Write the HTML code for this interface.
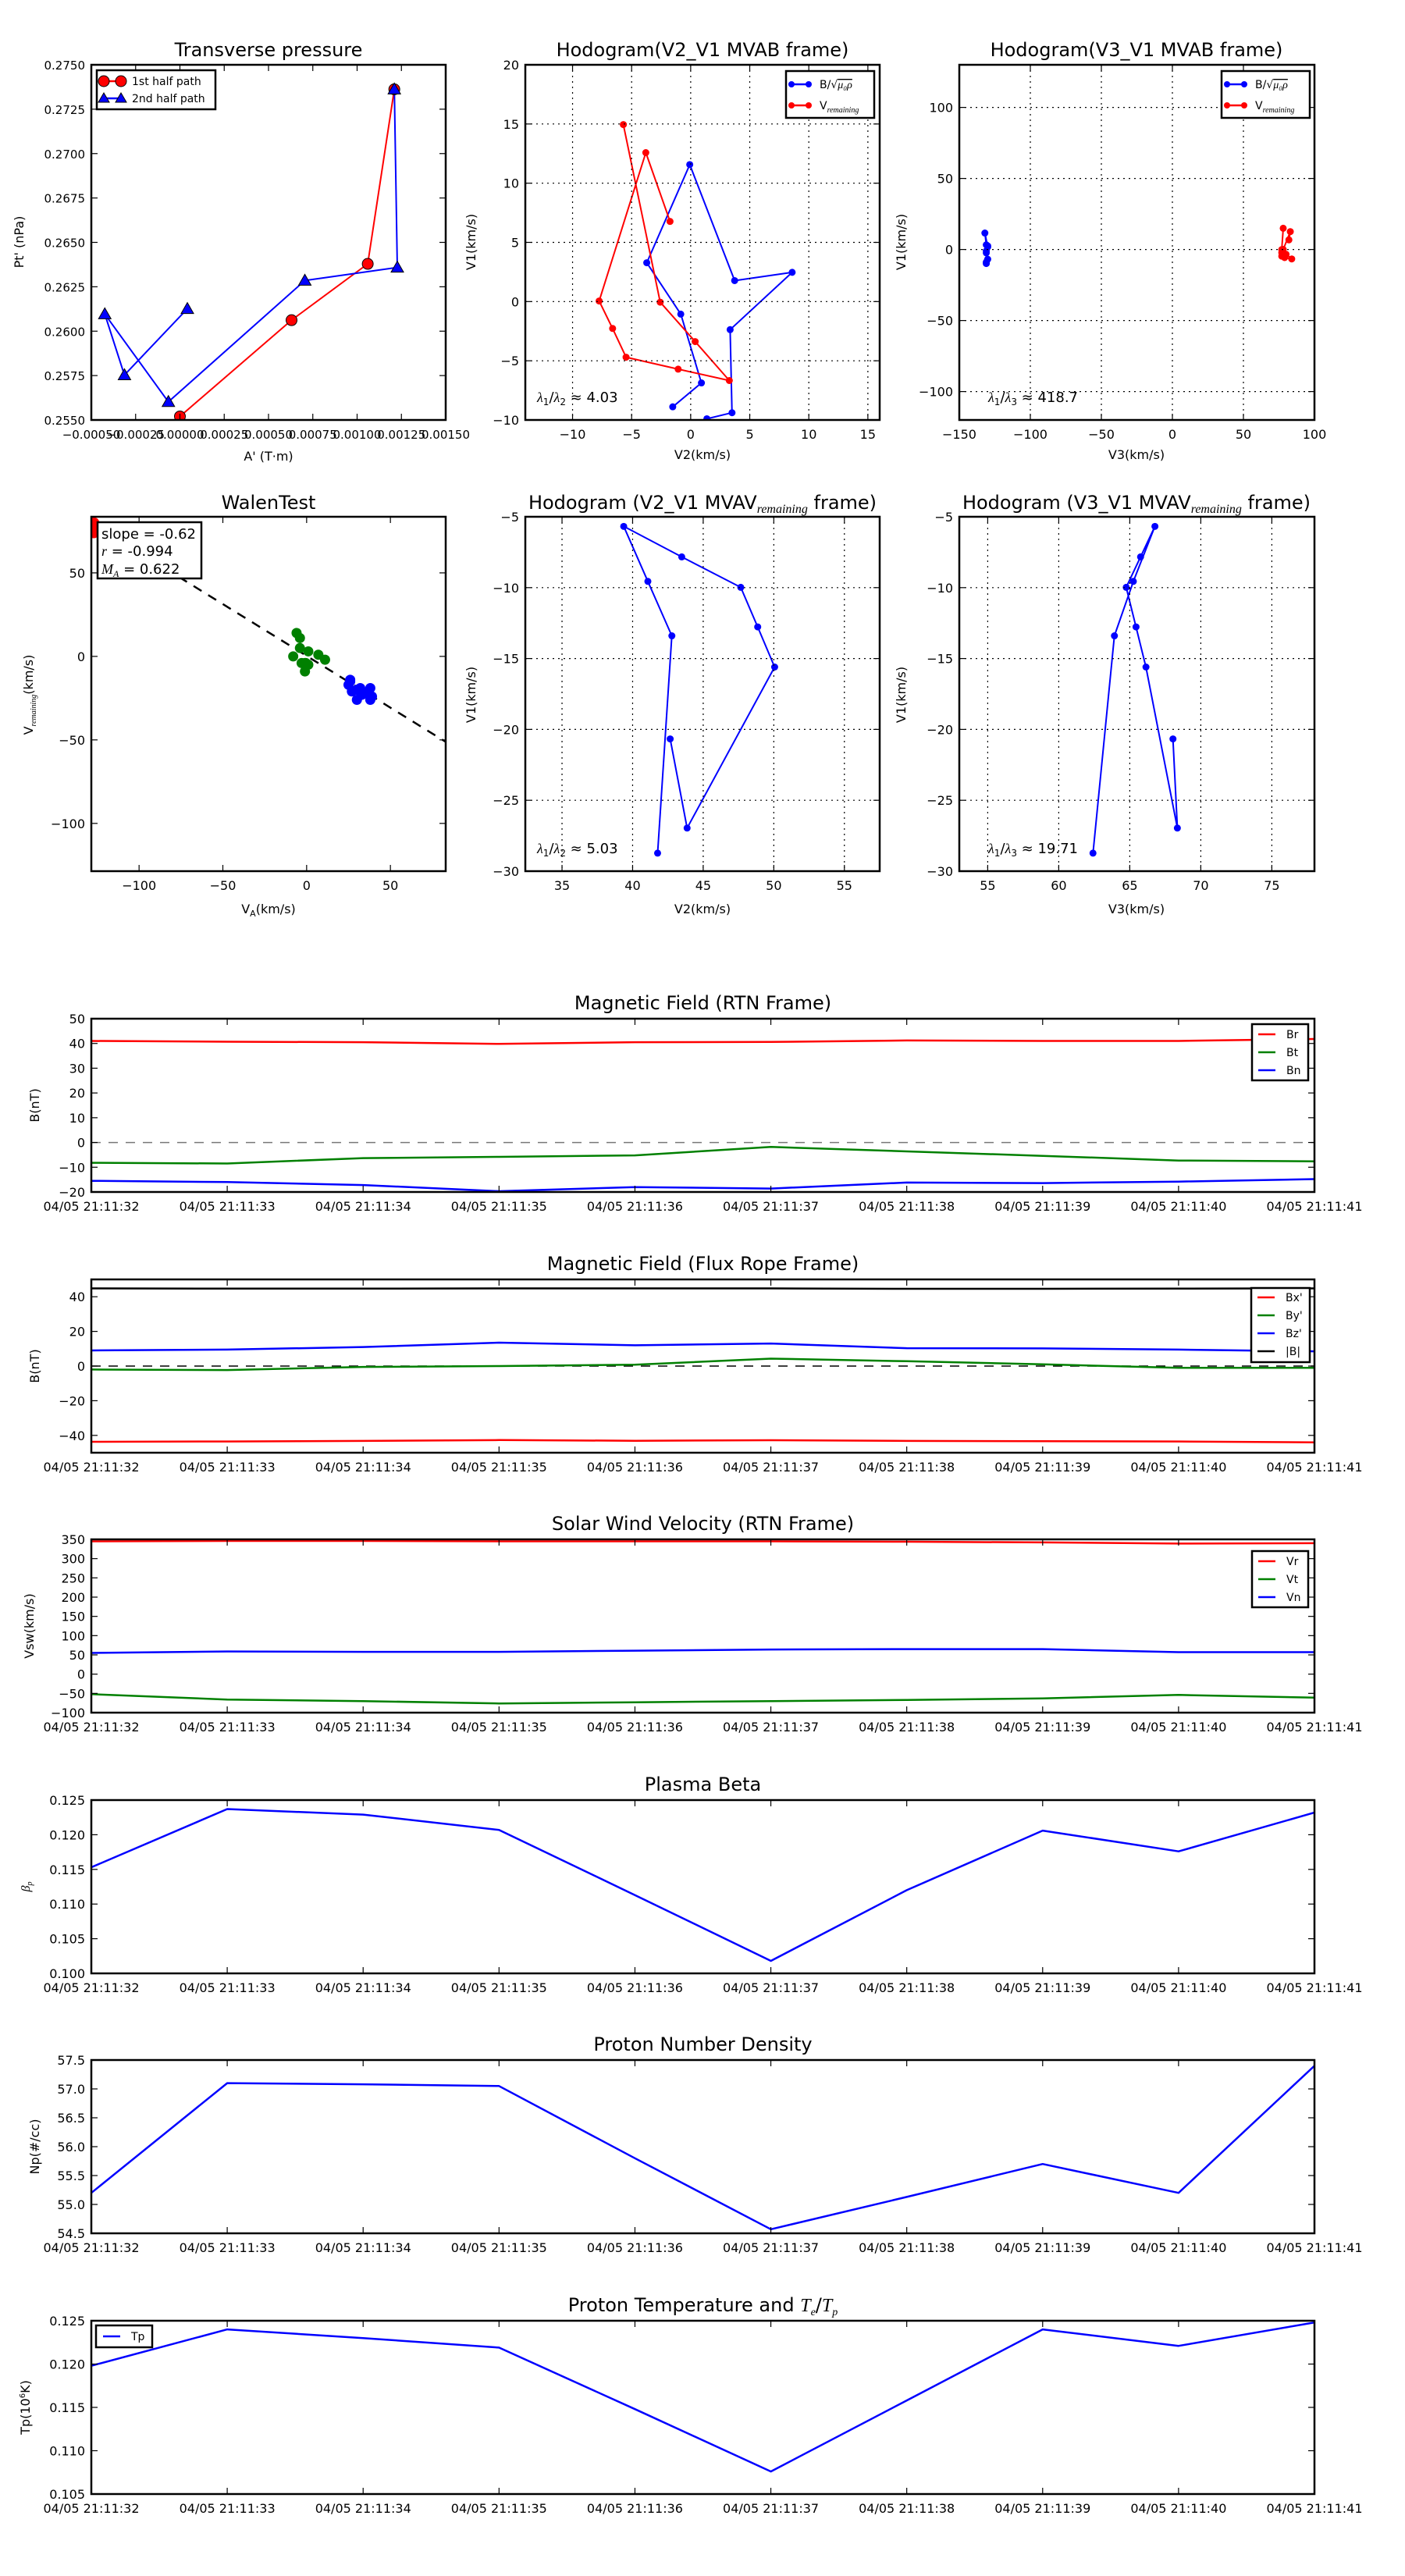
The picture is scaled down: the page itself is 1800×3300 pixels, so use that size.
<!DOCTYPE html>
<html><head><meta charset="utf-8"><title>Flux rope analysis</title>
<style>
html,body{margin:0;padding:0;background:#fff;}
svg{display:block;font-family:"DejaVu Sans","Liberation Sans",sans-serif;}
</style></head>
<body>
<svg id="fig" xmlns="http://www.w3.org/2000/svg" width="1800" height="3300" viewBox="0 0 1800 3300">
<rect x="0" y="0" width="1800" height="3300" fill="#fff"/>
<defs id="defs"></defs>
</svg>
<script>
// ---------- data ----------
const timeLabels = ["04/05 21:11:32","04/05 21:11:33","04/05 21:11:34","04/05 21:11:35","04/05 21:11:36","04/05 21:11:37","04/05 21:11:38","04/05 21:11:39","04/05 21:11:40","04/05 21:11:41"];
const timeIdx = [0,1,2,3,4,5,6,7,8,9];
const Br = [41,40.7,40.5,39.8,40.5,40.6,41.2,41,41,41.8];
const Bt = [-8.2,-8.5,-6.3,-5.8,-5.2,-1.8,-3.6,-5.4,-7.3,-7.6];
const Bn = [-15.5,-16,-17.2,-19.7,-18,-18.6,-16.2,-16.4,-15.8,-14.8];
const Bxp = [-43.7,-43.5,-43.2,-42.7,-43.1,-42.8,-43.2,-43.4,-43.5,-44];
const Byp = [-2,-2.3,-0.5,0,0.8,4.3,2.8,1,-1,-1];
const Bzp = [9,9.5,11,13.5,12,13,10.3,10.2,9.5,8.5];
const Babs = [44.8,44.7,44.7,44.8,44.8,44.8,44.6,44.6,44.7,44.8];
const Vr = [345,346,346,345,345,345,344,342,339,340];
const Vt = [-52,-66,-70,-76,-73,-70,-67,-63,-54,-61];
const Vn = [55,59,58,58,61,64,65,65,57,57];
const beta = [0.1153,0.1237,0.1229,0.1207,0.1113,0.1018,0.1120,0.1206,0.1176,0.1232];
const Np = [55.2,57.1,57.08,57.05,55.8,54.57,55.13,55.7,55.2,57.4];
const Tp = [0.1198,0.1240,0.1230,0.1219,0.1148,0.1076,0.1158,0.1240,0.1221,0.1248];

const tpA1 = [0.0000,0.00063,0.00106,0.00121];
const tpP1 = [0.2552,0.26062,0.26379,0.27362];
const tpA2 = [0.00121,0.001227,0.000705,-0.000065,-0.000424,-0.000313,0.000042];
const tpP2 = [0.27362,0.26359,0.26285,0.25602,0.26096,0.25753,0.26126];
const tpXTicks = [-0.0005,-0.00025,0,0.00025,0.0005,0.00075,0.001,0.00125,0.0015];
const tpXLabels = ["\u22120.00050","\u22120.00025","0.00000","0.00025","0.00050","0.00075","0.00100","0.00125","0.00150"];
const tpYTicks = [0.255,0.2575,0.26,0.2625,0.265,0.2675,0.27,0.2725,0.275];
const tpYLabels = ["0.2550","0.2575","0.2600","0.2625","0.2650","0.2675","0.2700","0.2725","0.2750"];

const hbV2 = [-1.52,0.91,-0.84,-3.72,-0.08,3.72,8.59,3.34,3.50,1.37];
const hbV1 = [-8.89,-6.87,-1.06,3.28,11.57,1.77,2.47,-2.37,-9.39,-9.9];
const hvV2 = [-5.70,-2.58,0.38,3.27,-1.06,-5.47,-6.61,-7.75,-3.80,-1.75];
const hvV1 = [14.95,-0.05,-3.38,-6.67,-5.71,-4.70,-2.27,0.05,12.58,6.77];
const hbV3 = [-131,-130,-131,-131,-132,-130,-130,-131,-131,-131];
const hvV3 = [78,77,80,84,79,77,77,78,83,82];

const walenGreenX = [-6,-4,-4,-8,1,7,11,-1,1,-1,-0.5,-3];
const walenGreenY = [14,11,5,0,3,1,-2,-4,-5,-9,-4,-4];
const walenBlueX = [26,25,27,30,32,35,38,38,39,26,30,33];
const walenBlueY = [-14,-17,-21,-26,-19,-22,-19,-26,-24,-15,-20,-23];
const walenRedX = [-127,-127,-127];
const walenRedY = [80,77,74];
const walenSlope = -0.62;
const walenIntercept = 0.3;

const mvV2 = [42.66,43.86,50.06,48.86,47.66,43.48,39.37,41.08,42.78,41.77];
const mvV1 = [-20.67,-26.96,-15.60,-12.77,-9.98,-7.83,-5.68,-9.56,-13.40,-28.73];
const mvV3 = [68.04,68.35,66.14,65.44,64.75,65.76,66.77,65.25,63.92,62.41];

// ---------- helpers ----------
const NS = 'http://www.w3.org/2000/svg';
const svg = document.getElementById('fig');
const defs = document.getElementById('defs');
function mk(tag, attrs, parent){
  const e = document.createElementNS(NS, tag);
  for (const k in attrs) e.setAttribute(k, attrs[k]);
  (parent||svg).appendChild(e);
  return e;
}
let clipN = 0;
function axes(name, L, T, W, H, xd, yd){
  const g = mk('g', {});
  
  
  const id = 'clip' + (clipN++);
  const cp = mk('clipPath', {id: id}, defs);
  mk('rect', {x: L, y: T, width: W, height: H}, cp);
  const plot = mk('g', {'clip-path': 'url(#' + id + ')'}, g);
  
  
  return {g, plot, L, T, W, H,
    sx: v => L + (v - xd[0]) / (xd[1] - xd[0]) * W,
    sy: v => T + H - (v - yd[0]) / (yd[1] - yd[0]) * H};
}
function frame(ax){
  const r = mk('rect', {x: ax.L, y: ax.T, width: ax.W, height: ax.H, fill: 'none', stroke: '#000', 'stroke-width': 2.5}, ax.g);
  
  
}
function xticks(ax, vals, labels, grid, fs){
  vals.forEach((v, i) => {
    const x = ax.sx(v);
    if (grid) {
      const gl = mk('line', {x1: x, x2: x, y1: ax.T, y2: ax.T + ax.H, stroke: '#000', 'stroke-width': 1.2, 'stroke-dasharray': '2,5'}, ax.g);
      
      
    }
    const t1 = mk('line', {x1: x, x2: x, y1: ax.T + ax.H, y2: ax.T + ax.H - 8, stroke: '#000', 'stroke-width': 1.2}, ax.g);
    
    
    const t2 = mk('line', {x1: x, x2: x, y1: ax.T, y2: ax.T + 8, stroke: '#000', 'stroke-width': 1.2}, ax.g);
    
    
    const tx = mk('text', {x: x, y: ax.T + ax.H + 24, 'text-anchor': 'middle', 'font-size': fs || 16}, ax.g);
    tx.textContent = labels[i];
    
    
  });
}
function yticks(ax, vals, labels, grid, fs){
  vals.forEach((v, i) => {
    const y = ax.sy(v);
    if (grid) {
      const gl = mk('line', {x1: ax.L, x2: ax.L + ax.W, y1: y, y2: y, stroke: '#000', 'stroke-width': 1.2, 'stroke-dasharray': '2,5'}, ax.g);
      
      
    }
    const t1 = mk('line', {x1: ax.L, x2: ax.L + 8, y1: y, y2: y, stroke: '#000', 'stroke-width': 1.2}, ax.g);
    
    
    const t2 = mk('line', {x1: ax.L + ax.W, x2: ax.L + ax.W - 8, y1: y, y2: y, stroke: '#000', 'stroke-width': 1.2}, ax.g);
    
    
    const tx = mk('text', {x: ax.L - 8, y: y + 6, 'text-anchor': 'end', 'font-size': fs || 16}, ax.g);
    tx.textContent = labels[i];
    
    
  });
}
function series(ax, xs, ys, color, name, w, dash){
  const pts = xs.map((x, i) => ax.sx(x).toFixed(1) + ',' + ax.sy(ys[i]).toFixed(1)).join(' ');
  const p = mk('polyline', {points: pts, fill: 'none', stroke: color, 'stroke-width': w || 2.5, 'stroke-linejoin': 'round'}, ax.plot);
  if (dash) p.setAttribute('stroke-dasharray', dash);
  
  
  return p;
}
function dots(ax, xs, ys, color, name, r, shape){
  xs.forEach((x, i) => {
    const cx = ax.sx(x), cy = ax.sy(ys[i]);
    let m;
    if (shape === 'tri') {
      m = mk('polygon', {points: `${cx},${cy - r} ${cx - r},${cy + r * 0.75} ${cx + r},${cy + r * 0.75}`, fill: color, stroke: '#000', 'stroke-width': 1}, ax.plot);
    } else {
      m = mk('circle', {cx: cx, cy: cy, r: r, fill: color, stroke: shape === 'edge' ? '#000' : 'none', 'stroke-width': 1}, ax.plot);
    }
    
    
  });
}
function label(txt, x, y, fs, name, rot, parent){
  const t = mk('text', {x: x, y: y, 'text-anchor': 'middle', 'font-size': fs}, parent || svg);
  if (rot) t.setAttribute('transform', `rotate(-90 ${x} ${y})`);
  t.innerHTML = txt;
  
  
  return t;
}
function legendBox(x, y, w, h, name){
  const g = mk('g', {});
  
  
  mk('rect', {x: x, y: y, width: w, height: h, fill: '#fff', stroke: '#000', 'stroke-width': 2.5}, g);
  return g;
}
function legendEntry(g, x, y, color, txt, name, markers, shape){
  const e = mk('g', {}, g);
  
  
  mk('line', {x1: x, x2: x + 22, y1: y, y2: y, stroke: color, 'stroke-width': 2.5}, e);
  if (markers) {
    [x, x + 22].forEach(mx => {
      if (shape === 'tri') mk('polygon', {points: `${mx},${y - 7} ${mx - 7},${y + 5} ${mx + 7},${y + 5}`, fill: color, stroke: '#000', 'stroke-width': 1}, e);
      else mk('circle', {cx: mx, cy: y, r: markers, fill: color, stroke: shape === 'edge' ? '#000' : 'none'}, e);
    });
  }
  const t = mk('text', {x: x + 36, y: y + 5, 'font-size': 14}, e);
  t.innerHTML = txt;
}

// ---------- top row ----------
// Transverse pressure
let ax = axes('transverse-pressure-chart', 117, 83, 454, 455, [-0.0005, 0.0015], [0.255, 0.275]);
series(ax, tpA1, tpP1, '#f00', 'first-half-path-line', 2);
series(ax, tpA2, tpP2, '#00f', 'second-half-path-line', 2);
dots(ax, tpA1, tpP1, '#f00', 'first-half-point', 7, 'edge');
dots(ax, tpA2, tpP2, '#00f', 'second-half-point', 8, 'tri');
frame(ax);
xticks(ax, tpXTicks, tpXLabels, false, 15);
yticks(ax, tpYTicks, tpYLabels, false, 15);
label('Transverse pressure', 344, 72, 24, 'transverse-pressure-title');
label('A\' (T·m)', 344, 590, 16, 'x-axis-title');
label('Pt\' (nPa)', 30, 310, 16, 'y-axis-title', true);
let lg = legendBox(124, 90, 152, 50, 'legend');
legendEntry(lg, 133, 104, '#f00', '1st half path', 'legend-entry-first-half', 7, 'edge');
legendEntry(lg, 133, 126, '#00f', '2nd half path', 'legend-entry-second-half', 7, 'tri');

// Hodogram V2_V1 MVAB
ax = axes('hodogram-v2-v1-mvab-chart', 673, 83, 454, 455, [-14, 16], [-10, 20]);
xticks(ax, [-10,-5,0,5,10,15], ['\u221210','\u22125','0','5','10','15'], true);
yticks(ax, [-10,-5,0,5,10,15,20], ['\u221210','\u22125','0','5','10','15','20'], true);
series(ax, hbV2, hbV1, '#00f', 'b-hodogram-line', 2);
dots(ax, hbV2, hbV1, '#00f', 'b-hodogram-point', 4.5);
series(ax, hvV2, hvV1, '#f00', 'v-hodogram-line', 2);
dots(ax, hvV2, hvV1, '#f00', 'v-hodogram-point', 4.5);
frame(ax);
label('Hodogram(V2_V1 MVAB frame)', 900, 72, 24, 'hodogram-mvab-v2-title');
label('V2(km/s)', 900, 588, 16, 'x-axis-title');
label('V1(km/s)', 609, 310, 16, 'y-axis-title', true);
let lt = mk('text', {x: 688, y: 515, 'font-size': 18}, ax.g);
lt.innerHTML = '<tspan font-family="Liberation Serif" font-style="italic">λ</tspan><tspan font-size="12" dy="4">1</tspan><tspan dy="-4">/</tspan><tspan font-family="Liberation Serif" font-style="italic">λ</tspan><tspan font-size="12" dy="4">2</tspan><tspan dy="-4"> ≈ 4.03</tspan>';


lg = legendBox(1007, 91, 113, 60, 'legend');
legendEntry(lg, 1014, 108, '#00f', 'B/√<tspan font-family="Liberation Serif" font-style="italic" text-decoration="overline">μ₀ρ</tspan>', 'legend-entry-b', 4);
legendEntry(lg, 1014, 135, '#f00', 'V<tspan font-size="10" font-family="Liberation Serif" font-style="italic" dy="4">remaining</tspan>', 'legend-entry-v', 4);

// Hodogram V3_V1 MVAB
ax = axes('hodogram-v3-v1-mvab-chart', 1229, 83, 455, 455, [-150, 100], [-120, 130]);
xticks(ax, [-150,-100,-50,0,50,100], ['\u2212150','\u2212100','\u221250','0','50','100'], true);
yticks(ax, [-100,-50,0,50,100], ['\u2212100','\u221250','0','50','100'], true);
series(ax, hbV3, hbV1, '#00f', 'b-hodogram-line', 2);
dots(ax, hbV3, hbV1, '#00f', 'b-hodogram-point', 4.5);
series(ax, hvV3, hvV1, '#f00', 'v-hodogram-line', 2);
dots(ax, hvV3, hvV1, '#f00', 'v-hodogram-point', 4.5);
frame(ax);
label('Hodogram(V3_V1 MVAB frame)', 1456, 72, 24, 'hodogram-mvab-v3-title');
label('V3(km/s)', 1456, 588, 16, 'x-axis-title');
label('V1(km/s)', 1160, 310, 16, 'y-axis-title', true);
lt = mk('text', {x: 1266, y: 515, 'font-size': 18}, ax.g);
lt.innerHTML = '<tspan font-family="Liberation Serif" font-style="italic">λ</tspan><tspan font-size="12" dy="4">1</tspan><tspan dy="-4">/</tspan><tspan font-family="Liberation Serif" font-style="italic">λ</tspan><tspan font-size="12" dy="4">3</tspan><tspan dy="-4"> ≈ 418.7</tspan>';


lg = legendBox(1565, 91, 113, 60, 'legend');
legendEntry(lg, 1572, 108, '#00f', 'B/√<tspan font-family="Liberation Serif" font-style="italic" text-decoration="overline">μ₀ρ</tspan>', 'legend-entry-b', 4);
legendEntry(lg, 1572, 135, '#f00', 'V<tspan font-size="10" font-family="Liberation Serif" font-style="italic" dy="4">remaining</tspan>', 'legend-entry-v', 4);

// ---------- second row ----------
ax = axes('walen-test-chart', 117, 662, 454, 454, [-128.5, 83], [-128.6, 83.6]);
xticks(ax, [-100,-50,0,50], ['\u2212100','\u221250','0','50'], false);
yticks(ax, [-100,-50,0,50], ['\u2212100','\u221250','0','50'], false);
series(ax, [-128.5, 83], [walenSlope * -128.5 + walenIntercept, walenSlope * 83 + walenIntercept], '#000', 'walen-fit-line', 2.5, '12,10');
dots(ax, walenRedX, walenRedY, '#f00', 'walen-red-point', 7);
dots(ax, walenGreenX, walenGreenY, 'green', 'walen-green-point', 6.5);
dots(ax, walenBlueX, walenBlueY, '#00f', 'walen-blue-point', 6.5);
frame(ax);
let wb = legendBox(125, 669, 133, 72, 'walen-stats-box');
let wt = mk('text', {x: 130, y: 690, 'font-size': 18}, wb); wt.textContent = 'slope = -0.62';
wt = mk('text', {x: 130, y: 712, 'font-size': 18}, wb); wt.innerHTML = '<tspan font-family="Liberation Serif" font-style="italic">r</tspan> = -0.994';
wt = mk('text', {x: 130, y: 735, 'font-size': 18}, wb); wt.innerHTML = '<tspan font-family="Liberation Serif" font-style="italic">M</tspan><tspan font-family="Liberation Serif" font-style="italic" font-size="12" dy="4">A</tspan><tspan dy="-4"> = 0.622</tspan>';
label('WalenTest', 344, 652, 24, 'walen-test-title');
label('V<tspan font-size="11" dy="4">A</tspan><tspan dy="-4">(km/s)</tspan>', 344, 1170, 16, 'x-axis-title');
label('V<tspan font-size="10" font-family="Liberation Serif" font-style="italic" dy="4">remaining</tspan><tspan dy="-4">(km/s)</tspan>', 42, 890, 16, 'y-axis-title', true);

ax = axes('hodogram-v2-v1-mvav-chart', 673, 662, 454, 454, [32.4, 57.5], [-30, -5]);
xticks(ax, [35,40,45,50,55], ['35','40','45','50','55'], true);
yticks(ax, [-30,-25,-20,-15,-10,-5], ['\u221230','\u221225','\u221220','\u221215','\u221210','\u22125'], true);
series(ax, mvV2, mvV1, '#00f', 'mvav-hodogram-line', 2);
dots(ax, mvV2, mvV1, '#00f', 'mvav-hodogram-point', 4.5);
frame(ax);
label('Hodogram (V2_V1 MVAV<tspan font-family="Liberation Serif" font-style="italic" font-size="16" dy="5">remaining</tspan><tspan dy="-5"> frame)</tspan>', 900, 652, 24, 'hodogram-mvav-v2-title');
label('V2(km/s)', 900, 1170, 16, 'x-axis-title');
label('V1(km/s)', 609, 890, 16, 'y-axis-title', true);
lt = mk('text', {x: 688, y: 1093, 'font-size': 18}, ax.g);
lt.innerHTML = '<tspan font-family="Liberation Serif" font-style="italic">λ</tspan><tspan font-size="12" dy="4">1</tspan><tspan dy="-4">/</tspan><tspan font-family="Liberation Serif" font-style="italic">λ</tspan><tspan font-size="12" dy="4">2</tspan><tspan dy="-4"> ≈ 5.03</tspan>';



ax = axes('hodogram-v3-v1-mvav-chart', 1229, 662, 455, 454, [53, 78], [-30, -5]);
xticks(ax, [55,60,65,70,75], ['55','60','65','70','75'], true);
yticks(ax, [-30,-25,-20,-15,-10,-5], ['\u221230','\u221225','\u221220','\u221215','\u221210','\u22125'], true);
series(ax, mvV3, mvV1, '#00f', 'mvav-hodogram-line', 2);
dots(ax, mvV3, mvV1, '#00f', 'mvav-hodogram-point', 4.5);
frame(ax);
label('Hodogram (V3_V1 MVAV<tspan font-family="Liberation Serif" font-style="italic" font-size="16" dy="5">remaining</tspan><tspan dy="-5"> frame)</tspan>', 1456, 652, 24, 'hodogram-mvav-v3-title');
label('V3(km/s)', 1456, 1170, 16, 'x-axis-title');
label('V1(km/s)', 1160, 890, 16, 'y-axis-title', true);
lt = mk('text', {x: 1266, y: 1093, 'font-size': 18}, ax.g);
lt.innerHTML = '<tspan font-family="Liberation Serif" font-style="italic">λ</tspan><tspan font-size="12" dy="4">1</tspan><tspan dy="-4">/</tspan><tspan font-family="Liberation Serif" font-style="italic">λ</tspan><tspan font-size="12" dy="4">3</tspan><tspan dy="-4"> ≈ 19.71</tspan>';



// ---------- time series ----------
const TL = 117, TW = 1567, TH = 222;
function tsAxes(name, top, yd, yt, yl, title, ylab, ylabX){
  const a = axes(name, TL, top, TW, TH, [0, 9], yd);
  label(title, TL + TW / 2, top - 12, 24, name + '-title');
  label(ylab, ylabX, top + TH / 2, 16, 'y-axis-title', true);
  a.yt = yt; a.yl = yl;
  return a;
}
function tsFinish(a){
  frame(a);
  xticks(a, timeIdx, timeLabels, false, 16);
  yticks(a, a.yt, a.yl, false, 16);
}
// Panel 1
ax = tsAxes('magnetic-field-rtn-chart', 1305, [-20, 50], [-20,-10,0,10,20,30,40,50], ['\u221220','\u221210','0','10','20','30','40','50'], 'Magnetic Field (RTN Frame)', 'B(nT)', 50);
series(ax, [0, 9], [0, 0], '#777', 'zero-line', 1.5, '12,10');
series(ax, timeIdx, Br, '#f00', 'br-line');
series(ax, timeIdx, Bt, 'green', 'bt-line');
series(ax, timeIdx, Bn, '#00f', 'bn-line');
tsFinish(ax);
lg = legendBox(1604, 1312, 72, 72, 'legend');
legendEntry(lg, 1612, 1325, '#f00', 'Br', 'legend-entry-br');
legendEntry(lg, 1612, 1348, 'green', 'Bt', 'legend-entry-bt');
legendEntry(lg, 1612, 1371, '#00f', 'Bn', 'legend-entry-bn');

// Panel 2
ax = tsAxes('magnetic-field-flux-rope-chart', 1639, [-50, 50], [-40,-20,0,20,40], ['\u221240','\u221220','0','20','40'], 'Magnetic Field (Flux Rope Frame)', 'B(nT)', 50);
series(ax, [0, 9], [0, 0], '#000', 'zero-line', 1.5, '12,10');
series(ax, timeIdx, Bxp, '#f00', 'bx-prime-line');
series(ax, timeIdx, Byp, 'green', 'by-prime-line');
series(ax, timeIdx, Bzp, '#00f', 'bz-prime-line');
series(ax, timeIdx, Babs, '#000', 'b-magnitude-line');
tsFinish(ax);
lg = legendBox(1603, 1650, 75, 95, 'legend');
legendEntry(lg, 1611, 1662, '#f00', 'Bx\'', 'legend-entry-bx');
legendEntry(lg, 1611, 1685, 'green', 'By\'', 'legend-entry-by');
legendEntry(lg, 1611, 1708, '#00f', 'Bz\'', 'legend-entry-bz');
legendEntry(lg, 1611, 1731, '#000', '|B|', 'legend-entry-babs');

// Panel 3
ax = tsAxes('solar-wind-velocity-chart', 1972, [-100, 350], [-100,-50,0,50,100,150,200,250,300,350], ['\u2212100','\u221250','0','50','100','150','200','250','300','350'], 'Solar Wind Velocity (RTN Frame)', 'Vsw(km/s)', 43);
series(ax, timeIdx, Vr, '#f00', 'vr-line');
series(ax, timeIdx, Vt, 'green', 'vt-line');
series(ax, timeIdx, Vn, '#00f', 'vn-line');
tsFinish(ax);
lg = legendBox(1604, 1987, 72, 72, 'legend');
legendEntry(lg, 1612, 2000, '#f00', 'Vr', 'legend-entry-vr');
legendEntry(lg, 1612, 2023, 'green', 'Vt', 'legend-entry-vt');
legendEntry(lg, 1612, 2046, '#00f', 'Vn', 'legend-entry-vn');

// Panel 4
ax = tsAxes('plasma-beta-chart', 2306, [0.1, 0.125], [0.1,0.105,0.11,0.115,0.12,0.125], ['0.100','0.105','0.110','0.115','0.120','0.125'], 'Plasma Beta', '<tspan font-family="Liberation Serif" font-style="italic">β</tspan><tspan font-family="Liberation Serif" font-style="italic" font-size="10" dy="3">p</tspan>', 38);
series(ax, timeIdx, beta, '#00f', 'beta-line');
tsFinish(ax);

// Panel 5
ax = tsAxes('proton-density-chart', 2639, [54.5, 57.5], [54.5,55,55.5,56,56.5,57,57.5], ['54.5','55.0','55.5','56.0','56.5','57.0','57.5'], 'Proton Number Density', 'Np(#/cc)', 50);
series(ax, timeIdx, Np, '#00f', 'np-line');
tsFinish(ax);

// Panel 6
ax = tsAxes('proton-temperature-chart', 2973, [0.105, 0.125], [0.105,0.11,0.115,0.12,0.125], ['0.105','0.110','0.115','0.120','0.125'], 'Proton Temperature and <tspan font-family="Liberation Serif" font-style="italic">T</tspan><tspan font-family="Liberation Serif" font-style="italic" font-size="14" dy="5">e</tspan><tspan dy="-5">/</tspan><tspan font-family="Liberation Serif" font-style="italic">T</tspan><tspan font-family="Liberation Serif" font-style="italic" font-size="14" dy="5">p</tspan>', 'Tp(10<tspan font-size="10" dy="-6">6</tspan><tspan dy="6">K)</tspan>', 38);
series(ax, timeIdx, Tp, '#00f', 'tp-line');
tsFinish(ax);
lg = legendBox(123, 2979, 72, 28, 'legend');
legendEntry(lg, 132, 2993, '#00f', 'Tp', 'legend-entry-tp');
</script>
</body></html>
